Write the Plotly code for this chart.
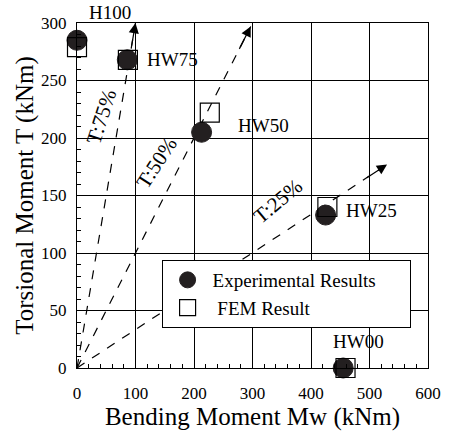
import plotly.graph_objects as go

# ---- data ----
specimens = ["H100", "HW75", "HW50", "HW25", "HW00"]
exp_mw = [0, 86, 213, 425, 455]
exp_t = [285, 268, 205, 133, 0]
fem_mw = [0, 87, 227, 428, 459]
fem_t = [279, 268, 222, 140, 0]

label_x = [57, 163, 319, 504, 482]
label_y = [300, 268, 211, 137, 23]
label_yshift = [11, 0, 0, 0, 0]

ray_labels = ["T:75%", "T:50%", "T:25%"]
ray_end_x = [100, 297, 530]
ray_end_y = [300, 297, 177]
ray_label_x = [42, 136, 344]
ray_label_y = [218, 178, 145]
ray_label_angle = [-72, -57, -40]

FONT = "Liberation Serif"

fig = go.Figure()

# dashed rays from origin
for ex, ey in zip(ray_end_x, ray_end_y):
    fig.add_trace(go.Scatter(x=[0, ex], y=[0, ey], mode="lines",
                             line=dict(color="black", width=1.2, dash="dash"),
                             showlegend=False, hoverinfo="skip"))

fig.add_trace(go.Scatter(x=exp_mw, y=exp_t, mode="markers",
                         name="Experimental Results\u00a0\u00a0\u00a0\u00a0\u00a0\u00a0",
                         marker=dict(symbol="circle", size=20, color="#231f20",
                                     line=dict(color="#231f20", width=1)),
                         cliponaxis=False))
fig.add_trace(go.Scatter(x=fem_mw, y=fem_t, mode="markers", name="\u00a0FEM Result",
                         marker=dict(symbol="square-open", size=19, color="black",
                                     line=dict(color="black", width=1.2)),
                         cliponaxis=False))

annotations = []
for ex, ey in zip(ray_end_x, ray_end_y):
    annotations.append(dict(x=ex, y=ey, ax=ex * 0.93, ay=ey * 0.93, xref="x", yref="y",
                            axref="x", ayref="y", showarrow=True, arrowhead=2,
                            arrowsize=1.7, arrowwidth=1.2, arrowcolor="black", text=""))
for lab, lx, ly, ang in zip(ray_labels, ray_label_x, ray_label_y, ray_label_angle):
    annotations.append(dict(x=lx, y=ly, xref="x", yref="y", text=lab, showarrow=False,
                            textangle=ang, font=dict(family=FONT, size=21, color="black")))
for lab, lx, ly, ys in zip(specimens, label_x, label_y, label_yshift):
    annotations.append(dict(x=lx, y=ly, xref="x", yref="y", text=lab, showarrow=False,
                            yshift=ys, font=dict(family=FONT, size=19, color="black")))

fig.update_layout(
    width=453, height=433,
    margin=dict(l=77, r=19, t=23, b=65),
    paper_bgcolor="white", plot_bgcolor="white",
    font=dict(family=FONT, size=17, color="black"),
    annotations=annotations,
    legend=dict(x=0.241, y=0.313, xanchor="left", yanchor="top",
                bgcolor="white", bordercolor="black", borderwidth=1,
                font=dict(family=FONT, size=19, color="black"),
                itemwidth=40, tracegroupgap=0),
    showlegend=True,
)
fig.update_xaxes(range=[0, 600], dtick=100, showgrid=True, gridcolor="black", gridwidth=1,
                 showline=True, linecolor="black", linewidth=1.2, mirror=True,
                 ticks="inside", ticklen=5, tickcolor="black", zeroline=False,
                 ticklabelstandoff=9,
                 minor=dict(dtick=20, ticks="inside", ticklen=4, tickcolor="black", showgrid=False),
                 tickfont=dict(family=FONT, size=17),
                 title=dict(text="Bending Moment Mw (kNm)", font=dict(family=FONT, size=25), standoff=0))
fig.update_yaxes(range=[0, 300], dtick=50, showgrid=True, gridcolor="black", gridwidth=1,
                 showline=True, linecolor="black", linewidth=1.2, mirror=True,
                 ticks="inside", ticklen=5, tickcolor="black", zeroline=False,
                 ticklabelstandoff=6,
                 minor=dict(dtick=10, ticks="inside", ticklen=4, tickcolor="black", showgrid=False),
                 tickfont=dict(family=FONT, size=17),
                 title=dict(text="Torsional Moment T (kNm)", font=dict(family=FONT, size=25), standoff=0))

fig.write_html("out.html")
